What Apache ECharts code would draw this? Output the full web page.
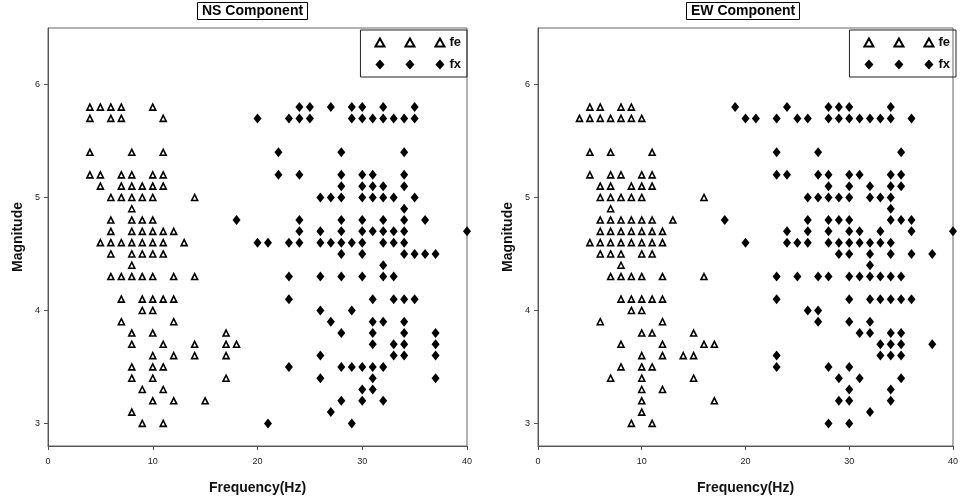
<!DOCTYPE html>
<html>
<head>
<meta charset="utf-8">
<style>
  html,body{margin:0;padding:0;background:#fff;}
  #main{width:961px;height:501px;}
</style>
<script src="https://cdn.jsdelivr.net/npm/echarts@6/dist/echarts.min.js"></script>
</head>
<body>
<div id="main"></div>
<script>
// 坐标刻度
var xTicks = [0, 10, 20, 30, 40];
var yTicks = [3, 4, 5, 6];

// NS 分量 fe (空心三角) [频率, 震级]
var nsFe = [
  [4,5.8],[5,5.8],[6,5.8],[7,5.8],[10,5.8],
  [4,5.7],[6,5.7],[7,5.7],[11,5.7],
  [4,5.4],[8,5.4],[11,5.4],
  [4,5.2],[5,5.2],[7,5.2],[8,5.2],[10,5.2],[11,5.2],
  [5,5.1],[7,5.1],[8,5.1],[9,5.1],[10,5.1],[11,5.1],
  [6,5.0],[7,5.0],[8,5.0],[9,5.0],[10,5.0],[14,5.0],
  [8,4.9],
  [6,4.8],[8,4.8],[9,4.8],[10,4.8],
  [6,4.7],[8,4.7],[9,4.7],[10,4.7],[11,4.7],[12,4.7],
  [5,4.6],[6,4.6],[7,4.6],[8,4.6],[9,4.6],[10,4.6],[11,4.6],[13,4.6],
  [6,4.5],[8,4.5],[9,4.5],[10,4.5],[11,4.5],
  [8,4.4],
  [6,4.3],[7,4.3],[8,4.3],[9,4.3],[10,4.3],[12,4.3],[14,4.3],
  [7,4.1],[9,4.1],[10,4.1],[11,4.1],[12,4.1],
  [9,4.0],[10,4.0],
  [7,3.9],[12,3.9],
  [8,3.8],[10,3.8],[17,3.8],
  [8,3.7],[11,3.7],[14,3.7],[17,3.7],[18,3.7],
  [10,3.6],[12,3.6],[14,3.6],[17,3.6],
  [8,3.5],[10,3.5],[11,3.5],
  [8,3.4],[10,3.4],[17,3.4],
  [9,3.3],[11,3.3],
  [10,3.2],[12,3.2],[15,3.2],
  [8,3.1],
  [9,3.0],[11,3.0]
];

// NS 分量 fx (实心菱形)
var nsFx = [
  [24,5.8],[25,5.8],[27,5.8],[29,5.8],[30,5.8],[32,5.8],[35,5.8],
  [20,5.7],[23,5.7],[24,5.7],[25,5.7],[29,5.7],[30,5.7],[31,5.7],[32,5.7],[33,5.7],[34,5.7],[35,5.7],
  [22,5.4],[28,5.4],[34,5.4],
  [22,5.2],[24,5.2],[28,5.2],[30,5.2],[31,5.2],[34,5.2],
  [28,5.1],[30,5.1],[31,5.1],[32,5.1],[34,5.1],
  [26,5.0],[27,5.0],[28,5.0],[30,5.0],[31,5.0],[32,5.0],[33,5.0],[35,5.0],
  [34,4.9],
  [18,4.8],[24,4.8],[28,4.8],[30,4.8],[32,4.8],[34,4.8],[36,4.8],
  [24,4.7],[26,4.7],[28,4.7],[30,4.7],[31,4.7],[32,4.7],[33,4.7],[34,4.7],[40,4.7],
  [20,4.6],[21,4.6],[23,4.6],[24,4.6],[26,4.6],[27,4.6],[28,4.6],[29,4.6],[30,4.6],[32,4.6],[33,4.6],[34,4.6],
  [28,4.5],[30,4.5],[34,4.5],[35,4.5],[36,4.5],[37,4.5],
  [32,4.4],
  [23,4.3],[26,4.3],[28,4.3],[30,4.3],[32,4.3],[33,4.3],
  [23,4.1],[31,4.1],[33,4.1],[34,4.1],[35,4.1],
  [26,4.0],[29,4.0],
  [27,3.9],[31,3.9],[32,3.9],[34,3.9],
  [28,3.8],[31,3.8],[34,3.8],[37,3.8],
  [31,3.7],[33,3.7],[34,3.7],[37,3.7],
  [26,3.6],[33,3.6],[34,3.6],[37,3.6],
  [23,3.5],[28,3.5],[29,3.5],[30,3.5],[31,3.5],[32,3.5],
  [26,3.4],[31,3.4],[37,3.4],
  [30,3.3],[31,3.3],
  [28,3.2],[30,3.2],[32,3.2],
  [27,3.1],
  [21,3.0],[29,3.0]
];

// EW 分量 fe
var ewFe = [
  [5,5.8],[6,5.8],[8,5.8],[9,5.8],
  [4,5.7],[5,5.7],[6,5.7],[7,5.7],[8,5.7],[9,5.7],[10,5.7],
  [5,5.4],[7,5.4],[11,5.4],
  [5,5.2],[7,5.2],[8,5.2],[10,5.2],[11,5.2],
  [6,5.1],[7,5.1],[9,5.1],[10,5.1],[11,5.1],
  [6,5.0],[7,5.0],[8,5.0],[9,5.0],[10,5.0],[16,5.0],
  [7,4.9],
  [6,4.8],[7,4.8],[8,4.8],[9,4.8],[10,4.8],[11,4.8],[13,4.8],
  [6,4.7],[7,4.7],[8,4.7],[9,4.7],[10,4.7],[11,4.7],[12,4.7],
  [5,4.6],[6,4.6],[7,4.6],[8,4.6],[9,4.6],[10,4.6],[11,4.6],[12,4.6],
  [6,4.5],[7,4.5],[8,4.5],[10,4.5],[11,4.5],
  [8,4.4],
  [7,4.3],[8,4.3],[9,4.3],[10,4.3],[12,4.3],[16,4.3],
  [8,4.1],[9,4.1],[10,4.1],[11,4.1],[12,4.1],
  [9,4.0],[10,4.0],
  [6,3.9],[12,3.9],
  [10,3.8],[11,3.8],[15,3.8],
  [8,3.7],[12,3.7],[16,3.7],[17,3.7],
  [10,3.6],[12,3.6],[14,3.6],[15,3.6],
  [8,3.5],[10,3.5],[11,3.5],
  [7,3.4],[10,3.4],[15,3.4],
  [10,3.3],[12,3.3],
  [10,3.2],[17,3.2],
  [10,3.1],
  [9,3.0],[11,3.0]
];

// EW 分量 fx
var ewFx = [
  [19,5.8],[24,5.8],[28,5.8],[29,5.8],[30,5.8],[34,5.8],
  [20,5.7],[21,5.7],[23,5.7],[25,5.7],[26,5.7],[28,5.7],[29,5.7],[30,5.7],[31,5.7],[32,5.7],[33,5.7],[34,5.7],[36,5.7],
  [23,5.4],[27,5.4],[35,5.4],
  [23,5.2],[24,5.2],[27,5.2],[28,5.2],[30,5.2],[31,5.2],[34,5.2],[35,5.2],
  [28,5.1],[30,5.1],[32,5.1],[34,5.1],[35,5.1],
  [26,5.0],[27,5.0],[28,5.0],[29,5.0],[30,5.0],[32,5.0],[33,5.0],[34,5.0],
  [34,4.9],
  [18,4.8],[26,4.8],[28,4.8],[29,4.8],[30,4.8],[34,4.8],[35,4.8],[36,4.8],
  [24,4.7],[26,4.7],[28,4.7],[30,4.7],[31,4.7],[33,4.7],[36,4.7],[40,4.7],
  [20,4.6],[24,4.6],[25,4.6],[26,4.6],[28,4.6],[29,4.6],[30,4.6],[31,4.6],[32,4.6],[33,4.6],[34,4.6],
  [29,4.5],[30,4.5],[32,4.5],[34,4.5],[36,4.5],[38,4.5],
  [32,4.4],
  [23,4.3],[25,4.3],[27,4.3],[28,4.3],[30,4.3],[31,4.3],[32,4.3],[33,4.3],[34,4.3],[35,4.3],
  [23,4.1],[30,4.1],[32,4.1],[33,4.1],[34,4.1],[35,4.1],[36,4.1],
  [26,4.0],[27,4.0],
  [27,3.9],[30,3.9],[32,3.9],
  [31,3.8],[32,3.8],[34,3.8],[35,3.8],
  [33,3.7],[34,3.7],[35,3.7],[38,3.7],
  [23,3.6],[33,3.6],[34,3.6],[35,3.6],
  [23,3.5],[28,3.5],[30,3.5],
  [29,3.4],[31,3.4],[35,3.4],
  [30,3.3],[34,3.3],
  [29,3.2],[30,3.2],[34,3.2],
  [32,3.1],
  [28,3.0],[30,3.0]
];

var FONT = '"Liberation Sans", Arial, sans-serif';
var triIcon = 'path://M0,9L4.5,1L9,9Z M30,9L34.5,1L39,9Z M60,9L64.5,1L69,9Z';
var diaIcon = 'path://M4.5,0L9,5L4.5,10L0,5Z M34.5,0L39,5L34.5,10L30,5Z M64.5,0L69,5L64.5,10L60,5Z';

var myChart = echarts.init(document.getElementById('main'));

function xAxisOf(idx){
  return {
    gridIndex: idx,
    type: 'value',
    min: 0, max: 40, interval: 10,
    name: 'Frequency(Hz)',
    nameLocation: 'middle',
    nameGap: 35,
    nameTextStyle: {fontFamily: FONT, fontWeight: 'bold', fontSize: 14, color: '#111'},
    splitLine: {show: false},
    axisLine: {lineStyle: {color: '#555', width: 1}},
    axisTick: {length: 4, lineStyle: {color: '#555'}},
    axisLabel: {fontFamily: FONT, fontSize: 9, color: '#222', margin: 11}
  };
}

function yAxisOf(idx){
  return {
    gridIndex: idx,
    type: 'value',
    min: 2.8, max: 6.5,
    name: 'Magnitude',
    nameLocation: 'middle',
    nameGap: 23,
    nameTextStyle: {fontFamily: FONT, fontWeight: 'bold', fontSize: 14, color: '#111'},
    splitLine: {show: false},
    axisLine: {lineStyle: {color: '#555', width: 1}},
    axisTick: {length: 4, customValues: yTicks, lineStyle: {color: '#555'}},
    axisLabel: {fontFamily: FONT, fontSize: 9, color: '#222', margin: 8, customValues: yTicks}
  };
}

function legendOf(rightPx){
  return {
    right: rightPx, top: 30,
    orient: 'vertical',
    itemWidth: 69, itemHeight: 10, itemGap: 9,
    borderColor: '#222', borderWidth: 1,
    padding: [6, 6, 6, 14],
    selectedMode: false,
    textStyle: {fontFamily: FONT, fontWeight: 'bold', fontSize: 13, color: '#111'},
    data: [{name: 'fe', icon: triIcon}, {name: 'fx', icon: diaIcon}]
  };
}

function feSeries(idx, data){
  return {
    name: 'fe', type: 'scatter',
    xAxisIndex: idx, yAxisIndex: idx,
    symbol: 'triangle', symbolSize: 6,
    itemStyle: {color: '#fff', borderColor: '#000', borderWidth: 1.6, opacity: 1},
    data: data
  };
}

function fxSeries(idx, data){
  return {
    name: 'fx', type: 'scatter',
    xAxisIndex: idx, yAxisIndex: idx,
    symbol: 'diamond', symbolSize: [8, 10],
    itemStyle: {color: '#000', opacity: 1},
    data: data
  };
}

var titleStyle = {fontFamily: FONT, fontWeight: 'bold', fontSize: 14, color: '#000'};

var option = {
  animation: false,
  backgroundColor: '#fff',
  title: [
    {text: 'NS Component', left: 197, top: 2, padding: [2, 5],
      borderColor: '#000', borderWidth: 1, textStyle: titleStyle},
    {text: 'EW Component', left: 686, top: 2, padding: [2, 5],
      borderColor: '#000', borderWidth: 1, textStyle: titleStyle}
  ],
  legend: [legendOf(494), legendOf(5)],
  grid: [
    {left: 48, right: 494, top: 28, bottom: 55, show: true, borderColor: '#666', borderWidth: 1},
    {left: 538, right: 5, top: 28, bottom: 55, show: true, borderColor: '#666', borderWidth: 1}
  ],
  xAxis: [xAxisOf(0), xAxisOf(1)],
  yAxis: [yAxisOf(0), yAxisOf(1)],
  series: [
    feSeries(0, nsFe), fxSeries(0, nsFx),
    feSeries(1, ewFe), fxSeries(1, ewFx)
  ]
};

myChart.setOption(option);
</script>
</body>
</html>
